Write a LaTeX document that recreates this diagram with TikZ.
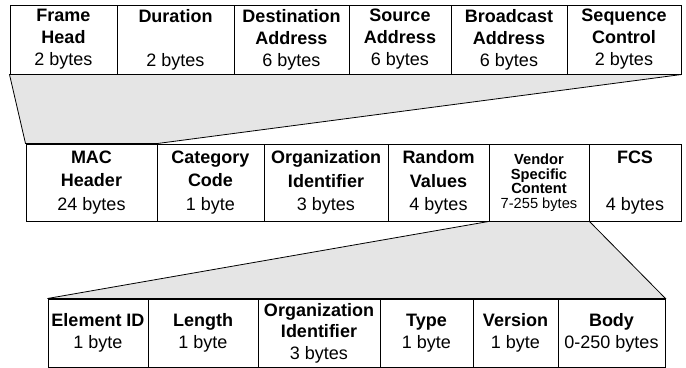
\documentclass[tikz,border=0pt]{standalone}
\usepackage{fontspec}
\setmainfont{Liberation Sans}
\usetikzlibrary{backgrounds}
\begin{document}
\begin{tikzpicture}[x=0.75pt,y=-0.75pt,
  cell/.style={draw=black, line width=0.75pt, inner sep=0pt, align=center},
  toprow/.style={cell, minimum height=51.75pt, font=\fontsize{13.5}{16.5}\selectfont},
  midrow/.style={cell, minimum height=57.75pt, font=\fontsize{13.5}{17.5}\selectfont},
  botrow/.style={cell, minimum height=51pt, font=\fontsize{13.5}{16.2}\selectfont},
  small/.style={font=\fontsize{11}{10.9}\selectfont},
  zoomband/.style={fill=black!10, draw=black, line width=0.6pt, line join=miter}
]
\useasboundingbox (0,0) rectangle (686,368);

% 802.11 MAC header fields
\node[toprow, minimum width=80.25pt] (fh)  at (63.5,39.5)  {\textbf{Frame}\\\textbf{Head}\\2 bytes};
\node[toprow, minimum width=87.75pt] (dur) at (175.5,39.5) {\textbf{Duration}\\\mbox{}\\2 bytes};
\node[toprow, minimum width=86.25pt] (dst) at (291.5,39.5) {\textbf{Destination}\\\textbf{Address}\\6 bytes};
\node[toprow, minimum width=76.5pt]  (src) at (400,39.5)   {\textbf{Source}\\\textbf{Address}\\6 bytes};
\node[toprow, minimum width=87pt]    (bc)  at (509,39.5)   {\textbf{Broadcast}\\\textbf{Address}\\6 bytes};
\node[toprow, minimum width=85.5pt]  (seq) at (624,39.5)   {\textbf{Sequence}\\\textbf{Control}\\2 bytes};

% Action frame fields
\node[midrow, minimum width=98.25pt] (mac) at (91.5,182.5)  {\textbf{MAC}\\\textbf{Header}\\24 bytes};
\node[midrow, minimum width=80.25pt] (cat) at (210.5,182.5) {\textbf{Category}\\\textbf{Code}\\1 byte};
\node[midrow, minimum width=93pt]    (org) at (326,182.5)   {\textbf{Organization}\\\textbf{Identifier}\\3 bytes};
\node[midrow, minimum width=75.75pt] (rnd) at (438.5,182.5) {\textbf{Random}\\\textbf{Values}\\4 bytes};
\node[midrow, minimum width=75pt, small] (ven) at (539,182.5) {\textbf{Vendor}\\\textbf{Specific}\\\textbf{Content}\\7-255 bytes};
\node[midrow, minimum width=69pt]    (fcs) at (635,182.5)   {\textbf{FCS}\\\mbox{}\\4 bytes};

% Vendor specific element fields
\node[botrow, minimum width=75pt]    (eid)  at (98,333)    {\textbf{Element ID}\\1 byte};
\node[botrow, minimum width=82.5pt]  (len)  at (203,333)   {\textbf{Length}\\1 byte};
\node[botrow, minimum width=91.5pt]  (org2) at (319,333)   {\textbf{Organization}\\\textbf{Identifier}\\3 bytes};
\node[botrow, minimum width=69.75pt] (typ)  at (426.5,333) {\textbf{Type}\\1 byte};
\node[botrow, minimum width=63.75pt] (ver)  at (515.5,333) {\textbf{Version}\\1 byte};
\node[botrow, minimum width=80.25pt] (body) at (611.5,333) {\textbf{Body}\\0-250 bytes};

% Expansion bands
\begin{pgfonlayer}{background}
  \path[zoomband] (fh.south west) -- (seq.south east) -- (mac.north east) -- (mac.north west) -- cycle;
  \path[zoomband] (ven.south west) -- (ven.south east) -- (body.north east) -- (eid.north west) -- cycle;
\end{pgfonlayer}
\end{tikzpicture}
\end{document}
